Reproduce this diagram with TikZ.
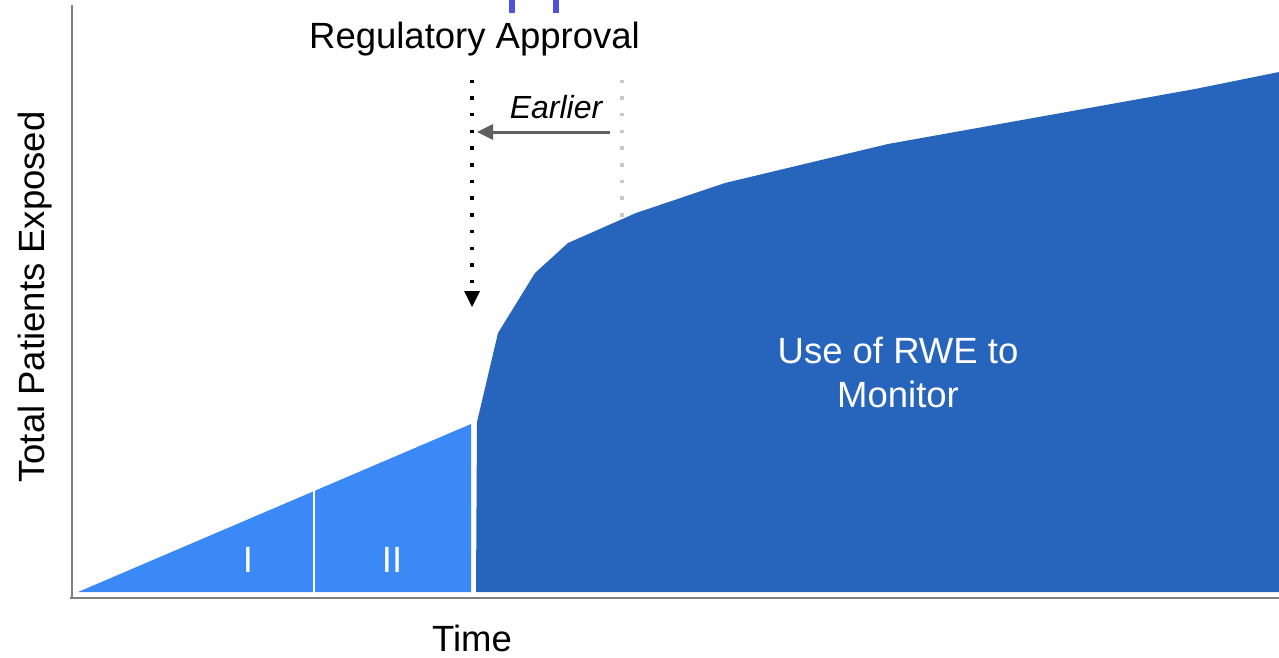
\documentclass[tikz,border=0pt]{standalone}
\usepackage{fontspec}
\setmainfont{Liberation Sans}
\usetikzlibrary{arrows.meta}
\definecolor{phaseblue}{HTML}{3A89F6}
\definecolor{rweblue}{HTML}{2764BC}
\definecolor{axisgray}{HTML}{7F7F7F}
\definecolor{titleblue}{HTML}{4F52DC}
\definecolor{shiftgray}{HTML}{5F5F5F}
\definecolor{oldgray}{HTML}{C8C8C8}
\begin{document}
\begin{tikzpicture}[x=1pt,y=-1pt,
  lbl/.style={font=\fontsize{36.5}{44}\selectfont, inner sep=0pt, anchor=base},
  whitelbl/.style={lbl, text=white},
  axisline/.style={draw=axisgray, line width=2pt},
  dotline/.style={line width=3.5pt, dash pattern=on 3.5pt off 13.2pt},
  shiftarrow/.style={draw=shiftgray, line width=3pt, -{Triangle[length=16pt,width=15pt]}}]
\useasboundingbox (0,0) rectangle (1279,657);

% title descenders at the top edge
\fill[titleblue] (509,0) rectangle (515,13);
\fill[titleblue] (553,0) rectangle (559,13);

% axes
\coordinate (ytop) at (72,5);
\coordinate (origin) at (72,598);
\coordinate (xend) at (1279,598);
\draw[axisline] (ytop) -- (origin);
\draw[axisline] (70,598) -- (xend);

% previous approval time (grey dots)
\coordinate (oldtop) at (622,79.5);
\coordinate (oldbot) at (622,218);
\draw[oldgray, dotline] (oldtop) -- (oldbot);

% phase I / II ramp
\fill[phaseblue] (78,592) -- (471,424) -- (471,592) -- cycle;
\draw[white, line width=2pt] (314,480) -- (314,593);

% post-approval exposure
\fill[rweblue] (476,592) -- (477,422) -- (498,333) -- (535,273) -- (568,243)
  -- (636,213) -- (725,183) -- (888,144) -- (1195,89) -- (1279,72)
  -- (1279,592) -- cycle;

% labels
\node[lbl] (reg) at (474.5,48) {Regulatory Approval};
\node[lbl, font=\fontsize{32}{38}\selectfont\itshape] (earlier) at (556,118) {Earlier};
\node[lbl] (time) at (472,651) {Time};
\node[lbl, rotate=90] (ylab) at (44,297) {Total Patients Exposed};
\node[whitelbl] (ph1) at (248,572) {I};
\node[whitelbl] (ph2) at (392,572) {II};
\node[whitelbl, align=center, anchor=base] (rwe) at (898,407) {Use of RWE to\\Monitor};

% approval marker
\coordinate (aptop) at (472,79.5);
\coordinate (apbot) at (472,284);
\draw[black, dotline] (aptop) -- (apbot);
\fill[black] (464,291) -- (480,291) -- (472,307) -- cycle;

% shift arrow
\coordinate (shiftfrom) at (610,132);
\coordinate (shiftto) at (477,132);
\draw[shiftarrow] (shiftfrom) -- (shiftto);
\end{tikzpicture}
\end{document}
